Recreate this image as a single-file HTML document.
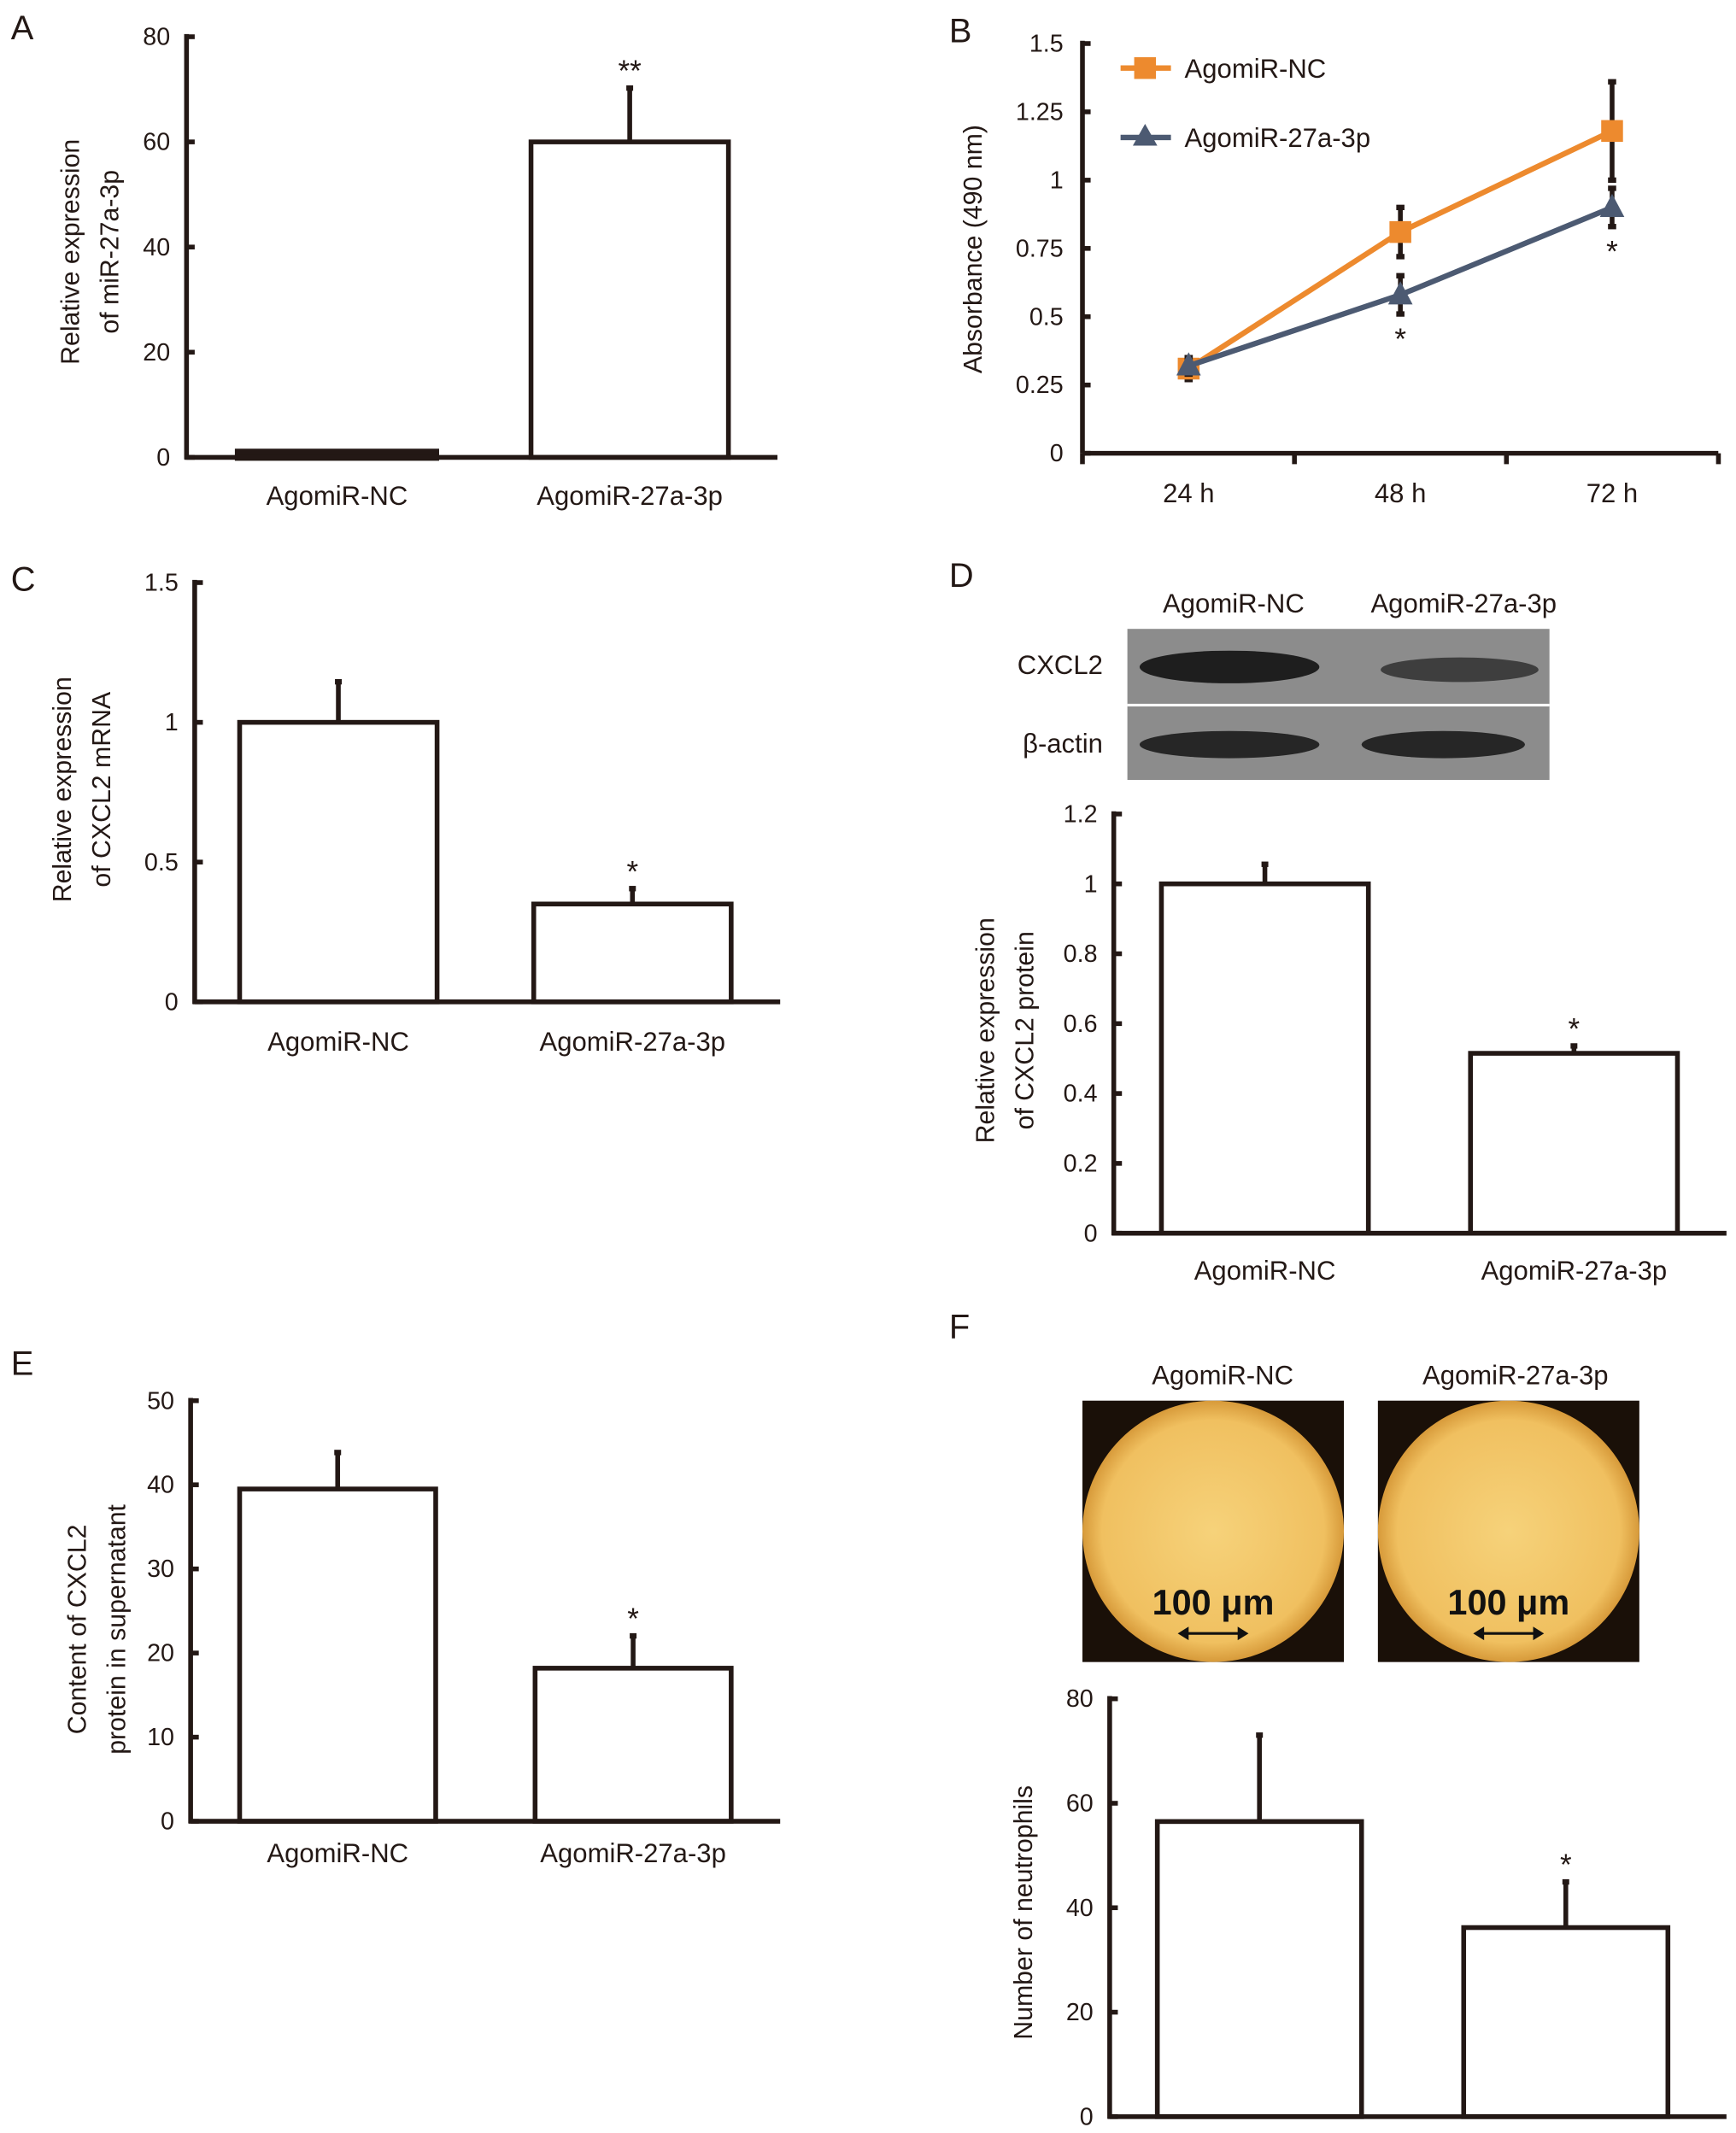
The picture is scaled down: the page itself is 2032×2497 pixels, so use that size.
<!DOCTYPE html>
<html><head><meta charset="utf-8"><style>
html,body{margin:0;padding:0;background:#fff}
svg{display:block}
text{font-family:"Liberation Sans",sans-serif;fill:#231815}
</style></head><body>
<svg id="fig" width="2032" height="2497" viewBox="0 0 1275 1567" preserveAspectRatio="none" xmlns="http://www.w3.org/2000/svg">
<defs>
<radialGradient id="wellA" cx="50%" cy="50%" r="50%"><stop offset="0" stop-color="#f6d27a"/><stop offset="0.85" stop-color="#f0c060"/><stop offset="1" stop-color="#d79a3a"/></radialGradient>
</defs>
<g id="root"></g>
</svg>
<script>
// Panel A data
const catsA = ["AgomiR-NC","AgomiR-27a-3p"];
const valsA = [1, 60];
const errA = [0, 10.5];
const ticksA = [0,20,40,60,80];
// Panel B data
const catsB = ["24 h","48 h","72 h"];
const ncB = [0.31, 0.81, 1.18];
const ncErrB = [0.04, 0.09, 0.18];
const agB = [0.32, 0.58, 0.90];
const agErrB = [0.03, 0.07, 0.07];
const ticksB = [0,0.25,0.5,0.75,1,1.25,1.5];
const tickLabelsB = ["0","0.25","0.5","0.75","1","1.25","1.5"];
// Panel C data
const catsC = ["AgomiR-NC","AgomiR-27a-3p"];
const valsC = [1.0, 0.35];
const errC = [0.15, 0.06];
const ticksC = [0,0.5,1,1.5];
// Panel D data
const catsD = ["AgomiR-NC","AgomiR-27a-3p"];
const valsD = [1.0, 0.515];
const errD = [0.06, 0.025];
const ticksD = [0,0.2,0.4,0.6,0.8,1,1.2];
// Panel E data
const catsE = ["AgomiR-NC","AgomiR-27a-3p"];
const valsE = [39.5, 18.2];
const errE = [4.5, 4];
const ticksE = [0,10,20,30,40,50];
// Panel F data
const catsF = ["AgomiR-NC","AgomiR-27a-3p"];
const valsF = [56.5, 36.2];
const errF = [16.8, 9];
const ticksF = [0,20,40,60,80];

const NS="http://www.w3.org/2000/svg";
const root=document.getElementById('root');
function el(tag,attrs,parent,txt){const e=document.createElementNS(NS,tag);for(const k in attrs)e.setAttribute(k,attrs[k]);if(txt!==undefined)e.textContent=txt;(parent||root).appendChild(e);return e;}
const C="#231815";

function barChart(o){
  const g=el('g',{});
  
  
  const max=o.ticks[o.ticks.length-1];
  const y=v=>o.y0-(v/max)*(o.y0-o.yTop);
  o.vals.forEach((v,i)=>{
    const x=o.barX[i], w=o.barW;
    const eb=el('line',{x1:x+w/2,x2:x+w/2,y1:y(v),y2:y(v+o.err[i]),stroke:C,'stroke-width':3.5},g);
    
    
    if(o.err[i]>0){const cap=el('rect',{x:x+w/2-2.5,y:y(v+o.err[i])-1,width:5,height:4,fill:C},g);
    
    }
    const r=el('rect',{x:x,y:y(v),width:w,height:Math.max(o.y0-y(v),0.5),fill:'#fff',stroke:C,'stroke-width':v<3&&max>50?5:3.5},g);
    
    
    if(o.labelY<1560){const t=el('text',{x:x+w/2,y:o.labelY,'text-anchor':'middle','font-size':19.5},g,o.cats[i]);
    
    }
    if(o.stars[i]){const s=el('text',{x:x+w/2,y:y(v+o.err[i])-4,'text-anchor':'middle','font-size':22},g,o.stars[i]);
    
    }
  });
  const ax=el('line',{x1:o.x0,x2:o.x0,y1:o.yTop-2,y2:o.y0+1.5,stroke:C,'stroke-width':3.5},g);
  
  
  const xa=el('line',{x1:o.x0-1.5,x2:o.xEnd,y1:o.y0,y2:o.y0,stroke:C,'stroke-width':3.5},g);
  
  
  o.ticks.forEach((t,i)=>{
    el('line',{x1:o.x0,x2:o.x0+6,y1:y(t),y2:y(t),stroke:C,'stroke-width':3.5},g);
    const tl=el('text',{x:o.x0-12,y:y(t)+6,'text-anchor':'end','font-size':18},g,o.tickLabels?o.tickLabels[i]:String(t));
    
    
  });
  const tt=el('text',{transform:`translate(${o.titleX},${o.titleY}) rotate(-90)`,'text-anchor':'middle','font-size':19},g);
  
  
  o.title.forEach((line,i)=>{el('tspan',{x:0,dy:i?29:0},tt,line);});
}

function panelLabel(t,x,y){const e=el('text',{x:x,y:y,'font-size':25},root,t);

}

panelLabel('A',8,29);panelLabel('B',697,31);panelLabel('C',8,434);panelLabel('D',697,431);panelLabel('E',8,1010);panelLabel('F',697,983);

barChart({name:'chart-a',cats:catsA,vals:valsA,err:errA,ticks:ticksA,x0:137,yTop:27,y0:336,xEnd:571,barX:[175,390],barW:145,labelY:371,stars:['','**'],title:['Relative expression','of miR-27a-3p'],titleX:58,titleY:185});
barChart({name:'chart-c',cats:catsC,vals:valsC,err:errC,ticks:ticksC,x0:143,yTop:428,y0:736,xEnd:573,barX:[176,392],barW:145,labelY:772,stars:['','*'],title:['Relative expression','of CXCL2 mRNA'],titleX:52,titleY:580});
barChart({name:'chart-d',cats:catsD,vals:valsD,err:errD,ticks:ticksD,x0:818,yTop:598,y0:906,xEnd:1268,barX:[853,1080],barW:152,labelY:940,stars:['','*'],title:['Relative expression','of CXCL2 protein'],titleX:730,titleY:757});
barChart({name:'chart-e',cats:catsE,vals:valsE,err:errE,ticks:ticksE,x0:140,yTop:1029,y0:1338,xEnd:573,barX:[176,393],barW:144,labelY:1368,stars:['','*'],title:['Content of CXCL2','protein in supernatant'],titleX:63,titleY:1197});
barChart({name:'chart-f',cats:catsF,vals:valsF,err:errF,ticks:ticksF,x0:815,yTop:1248,y0:1555,xEnd:1268,barX:[850,1075],barW:150,labelY:1600,stars:['','*'],title:['Number of neutrophils'],titleX:758,titleY:1405});

// Panel B line chart
(function(){
  const g=el('g',{});
  
  
  const x0=795,y0=333,yTop=32,xEnd=1262;
  const y=v=>y0-(v/1.5)*(y0-yTop);
  const xs=i=>873+i*155.5;
  const ax=el('line',{x1:x0,x2:x0,y1:yTop-2,y2:y0,stroke:C,'stroke-width':3.5},g);
  
  
  const xa=el('line',{x1:x0,x2:xEnd,y1:y0,y2:y0,stroke:C,'stroke-width':3.5},g);
  
  
  [0,1,2,3].forEach(i=>el('line',{x1:x0+i*155.7,x2:x0+i*155.7,y1:y0,y2:y0+8,stroke:C,'stroke-width':3.5},g));
  ticksB.forEach((t,i)=>{el('line',{x1:x0,x2:x0+6,y1:y(t),y2:y(t),stroke:C,'stroke-width':3.5},g);
    const tl=el('text',{x:x0-14,y:y(t)+6,'text-anchor':'end','font-size':18},g,tickLabelsB[i]);
    
    });
  catsB.forEach((c,i)=>{const t=el('text',{x:xs(i),y:369,'text-anchor':'middle','font-size':19.5},g,c);
    
    });
  const tt=el('text',{transform:'translate(721,183) rotate(-90)','text-anchor':'middle','font-size':19},g,'Absorbance (490 nm)');
  
  
  function series(vals,errs,color,marker,name){
    const sg=el('g',{},g);
    
    
    vals.forEach((v,i)=>{el('line',{x1:xs(i),x2:xs(i),y1:y(v-errs[i]),y2:y(v+errs[i]),stroke:C,'stroke-width':3.5},sg);
      el('rect',{x:xs(i)-3,y:y(v+errs[i])-2,width:6,height:4,fill:C},sg);
      el('rect',{x:xs(i)-3,y:y(v-errs[i])-2,width:6,height:4,fill:C},sg);});
    el('polyline',{points:vals.map((v,i)=>xs(i)+','+y(v)).join(' '),fill:'none',stroke:color,'stroke-width':4},sg);
    vals.forEach((v,i)=>{
      if(marker==='sq'){const m=el('rect',{x:xs(i)-8,y:y(v)-8,width:16,height:16,fill:color},sg);
        
        }
      else{const X=xs(i),Y=y(v);const m=el('polygon',{points:`${X},${Y-10} ${X-9},${Y+7} ${X+9},${Y+7}`,fill:color},sg);
        
        }
    });
  }
  series(ncB,ncErrB,'#ed8a2e','sq','series-agomir-nc');
  series(agB,agErrB,'#4c5a72','tri','series-agomir-27a-3p');
  [1,2].forEach(i=>{const s=el('text',{x:xs(i),y:y(agB[i]-agErrB[i])+26,'text-anchor':'middle','font-size':22},g,'*');
    
    });
  const l1=el('g',{},g);
  
  
  el('line',{x1:823,x2:860,y1:50,y2:50,stroke:'#ed8a2e','stroke-width':4},l1);
  el('rect',{x:833,y:42,width:16,height:16,fill:'#ed8a2e'},l1);
  el('text',{x:870,y:57,'font-size':19.5},l1,'AgomiR-NC');
  const l2=el('g',{},g);
  
  
  el('line',{x1:823,x2:860,y1:101,y2:101,stroke:'#4c5a72','stroke-width':4},l2);
  el('polygon',{points:'841,91 832,107 850,107',fill:'#4c5a72'},l2);
  el('text',{x:870,y:108,'font-size':19.5},l2,'AgomiR-27a-3p');
})();

// Panel D western blot
(function(){
  const g=el('g',{});
  
  
  el('rect',{x:828,y:462,width:310,height:111,fill:'#8c8c8c'},g);
  el('line',{x1:828,x2:1138,y1:518,y2:518,stroke:'#fff','stroke-width':2},g);
  el('ellipse',{cx:903,cy:490,rx:66,ry:12,fill:'#1e1e1e'},g);
  el('ellipse',{cx:1072,cy:492,rx:58,ry:9,fill:'#3e3e3e'},g);
  el('ellipse',{cx:903,cy:547,rx:66,ry:10,fill:'#262626'},g);
  el('ellipse',{cx:1060,cy:547,rx:60,ry:10,fill:'#262626'},g);
  [['AgomiR-NC',906,450],['AgomiR-27a-3p',1075,450]].forEach(a=>{const t=el('text',{x:a[1],y:a[2],'text-anchor':'middle','font-size':19.5},g,a[0]);
    
    });
  [['CXCL2',810,495],['β-actin',810,553]].forEach(a=>{const t=el('text',{x:a[1],y:a[2],'text-anchor':'end','font-size':19.5},g,a[0]);
    
    });
})();

// Panel F microscopy images
(function(){
  [[795,'AgomiR-NC',898],[1012,'AgomiR-27a-3p',1113]].forEach((a,i)=>{
    const g=el('g',{});
    
    
    el('rect',{x:a[0],y:1029,width:192,height:192,fill:'#1a1008'},g);
    el('circle',{cx:a[0]+96,cy:1125,r:96,fill:'url(#wellA)'},g);
    el('text',{x:a[2],y:1017,'text-anchor':'middle','font-size':19.5},g,a[1]);
    el('text',{x:a[0]+96,y:1186,'text-anchor':'middle','font-size':26,'font-weight':'bold',style:'fill:#111'},g,'100 μm');
    el('line',{x1:a[0]+72,x2:a[0]+120,y1:1200,y2:1200,stroke:'#111','stroke-width':2},g);
    el('polygon',{points:`${a[0]+70},1200 ${a[0]+78},1195 ${a[0]+78},1205`,fill:'#111'},g);
    el('polygon',{points:`${a[0]+122},1200 ${a[0]+114},1195 ${a[0]+114},1205`,fill:'#111'},g);
  });
})();
</script>
</body></html>
